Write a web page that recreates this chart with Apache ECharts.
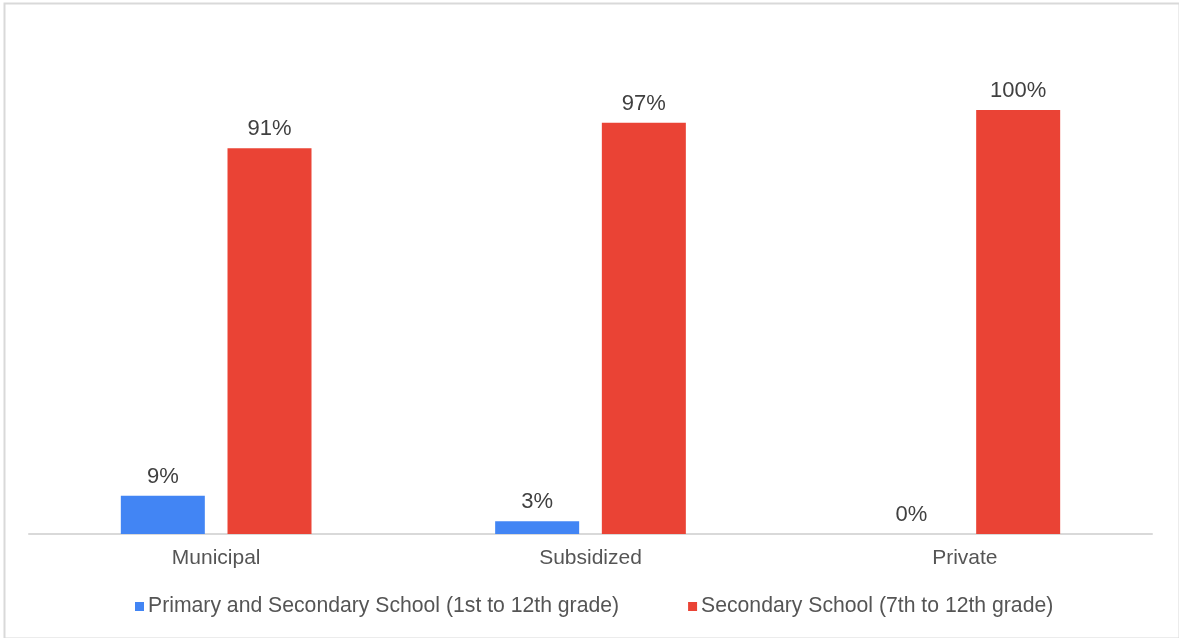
<!DOCTYPE html>
<html>
<head>
<meta charset="utf-8">
<script src="https://cdn.jsdelivr.net/npm/echarts@6/dist/echarts.min.js"></script>
<style>
html,body{margin:0;padding:0;background:#fff;}
#chart{width:1179px;height:638px;}
</style>
</head>
<body>
<div id="chart"></div>
<script>
const categories = ['Municipal', 'Subsidized', 'Private'];
const seriesNames = ['Primary and Secondary School (1st to 12th grade)', 'Secondary School (7th to 12th grade)'];
const primarySecondary = [9, 3, 0];
const secondaryOnly = [91, 97, 100];

const chart = echarts.init(document.getElementById('chart'), null, {renderer: 'canvas'});
const font = '"Liberation Sans", Arial, sans-serif';
const labelCfg = {
  show: true, position: 'top', distance: 8,
  formatter: p => p.value + '%',
  color: '#404040', fontSize: 22, fontFamily: font
};
chart.setOption({
  animation: false,
  graphic: [{
    type: 'rect', left: 2, top: 1,
    shape: {width: 1175, height: 635},
    style: {fill: 'none', stroke: '#d9d9d9', lineWidth: 2},
    silent: true
  }],
  grid: {left: 29, right: 27, top: 110, bottom: 104},
  legend: {
    bottom: 16, left: 130,
    itemWidth: 9, itemHeight: 9, itemGap: 69,
    icon: 'rect',
    textStyle: {color: '#555555', fontSize: 21.2, fontFamily: font, padding: [0, 0, 0, -1]},
    data: seriesNames
  },
  xAxis: {
    type: 'category', data: categories,
    axisLine: {lineStyle: {color: '#d9d9d9', width: 2}},
    axisTick: {show: false},
    axisLabel: {color: '#555555', fontSize: 21, fontFamily: font, margin: 14}
  },
  yAxis: {
    type: 'value', min: 0, max: 100, show: false,
    splitLine: {show: false}
  },
  series: [
    {name: seriesNames[0], type: 'bar', data: primarySecondary, barWidth: 84, barGap: '27%',
     itemStyle: {color: '#4285F4'}, label: labelCfg},
    {name: seriesNames[1], type: 'bar', data: secondaryOnly, barWidth: 84,
     itemStyle: {color: '#EA4335'}, label: labelCfg}
  ]
});
</script>
</body>
</html>
